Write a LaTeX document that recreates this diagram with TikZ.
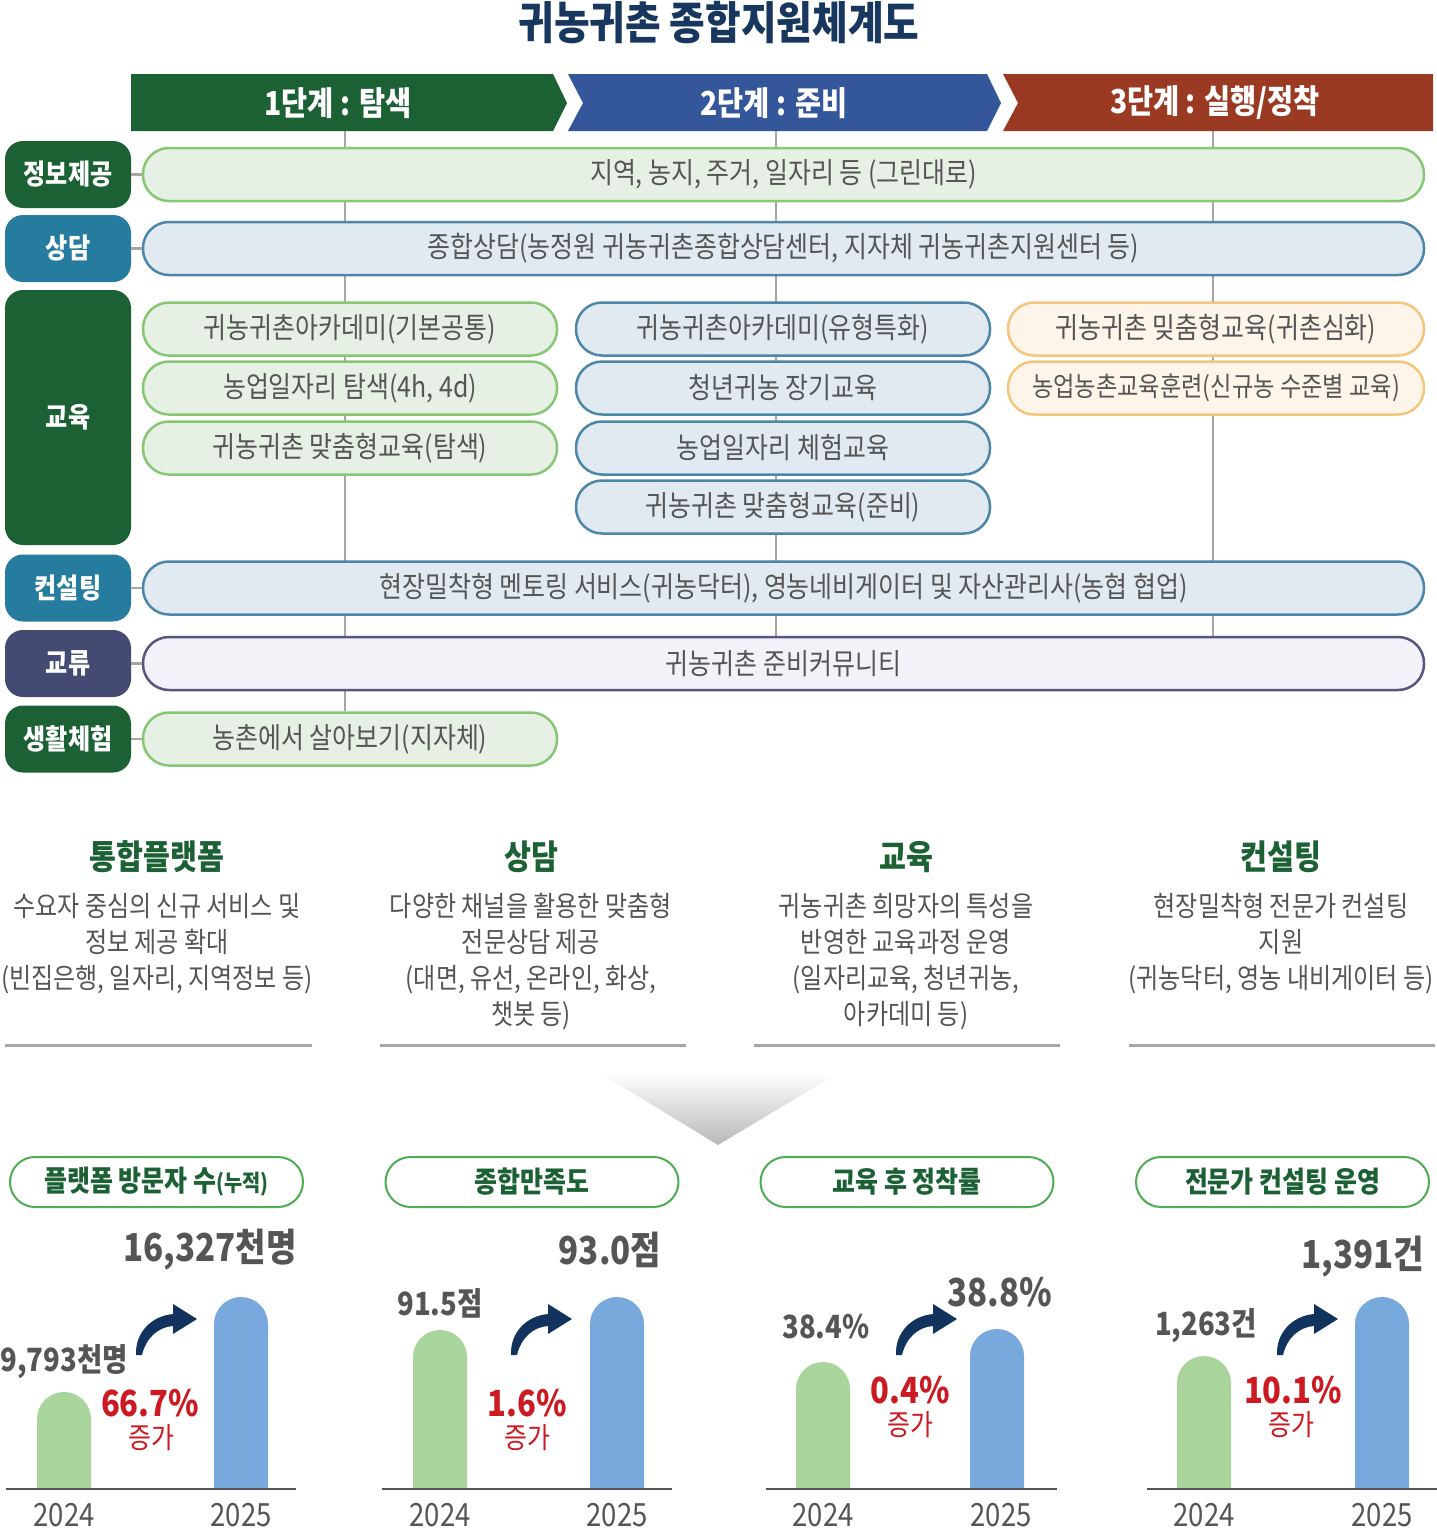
\documentclass[tikz,border=0pt]{standalone}
\usepackage{fontspec}
\setmainfont{Noto Sans CJK KR}[FakeStretch=0.86]
\usetikzlibrary{backgrounds}

\definecolor{titlenavy}{HTML}{17375E}
\definecolor{deepgreen}{HTML}{1B6133}
\definecolor{seablue}{HTML}{257C9E}
\definecolor{slatenavy}{HTML}{454A72}
\definecolor{stageblue}{HTML}{34579B}
\definecolor{stagered}{HTML}{9B3A23}
\definecolor{leafline}{HTML}{86C774}
\definecolor{leaffill}{HTML}{E6F0E4}
\definecolor{skyline}{HTML}{4C87A9}
\definecolor{skyfill}{HTML}{E1E9F1}
\definecolor{sandline}{HTML}{F4C57C}
\definecolor{sandfill}{HTML}{FDF4EA}
\definecolor{lilacline}{HTML}{55577F}
\definecolor{lilacfill}{HTML}{F3F2F8}
\definecolor{inkgray}{HTML}{555555}
\definecolor{wiregray}{HTML}{A6A6A6}
\definecolor{pillgreen}{HTML}{4CAD52}
\definecolor{bargreen}{HTML}{A9D49B}
\definecolor{barblue}{HTML}{77A9DC}
\definecolor{upred}{HTML}{CC1A22}
\definecolor{arrownavy}{HTML}{12335E}

\tikzset{
	catbox/.style={rectangle, rounded corners=18pt, minimum width=126pt, minimum height=67pt, inner sep=0pt, text=white, font=\fontsize{28}{28}\selectfont\bfseries},
	rowbox/.style={rectangle, rounded corners=26pt, minimum height=53pt, line width=2.5pt, inner sep=0pt, text=inkgray, font=\fontsize{29}{29}\selectfont},
	leafbox/.style={rowbox, draw=leafline, fill=leaffill},
	skybox/.style={rowbox, draw=skyline, fill=skyfill},
	sandbox/.style={rowbox, draw=sandline, fill=sandfill},
	lilacbox/.style={rowbox, draw=lilacline, fill=lilacfill},
	stagetext/.style={text=white, font=\fontsize{33}{33}\selectfont\bfseries},
	wire/.style={draw=wiregray, line width=2.5pt},
	headtext/.style={text=deepgreen, font=\fontsize{34}{34}\selectfont\bfseries},
	desctext/.style={align=center, inner sep=0pt, text=inkgray, font=\fontsize{28}{36}\selectfont},
	sepline/.style={draw=wiregray, line width=3pt},
	pillbox/.style={rectangle, rounded corners=25pt, minimum width=293pt, minimum height=50pt, draw=pillgreen, line width=2pt, fill=white, text=deepgreen, font=\fontsize{29}{29}\selectfont\bfseries},
	bigvalue/.style={text=inkgray, font=\fontsize{38.5}{38.5}\selectfont\bfseries},
	smallvalue/.style={text=inkgray, font=\fontsize{32}{32}\selectfont\bfseries},
	risetext/.style={text=upred, font=\fontsize{36}{36}\selectfont\bfseries},
	riseword/.style={text=upred, font=\fontsize{29}{29}\selectfont},
	yeartext/.style={text=inkgray, font=\fontsize{32}{32}\selectfont},
	axisline/.style={draw=inkgray, line width=2pt},
	growarrow/.pic={\fill[arrownavy] (-3,0) .. controls (-4,-22) and (12,-39) .. (34,-41) -- (34,-51) -- (58,-36) -- (34,-21) -- (34,-29) .. controls (19,-28) and (7,-17) .. (3,0) -- cycle;}
}

\begin{document}
\begin{tikzpicture}[x=1pt, y=-1pt]
	\useasboundingbox (0,0) rectangle (1437,1529);
	% Title and stages:
	\node[text=titlenavy, font=\fontsize{45}{45}\selectfont\bfseries] (title) at (719,23) {귀농귀촌 종합지원체계도};
	\fill[deepgreen] (131,74) -- (553,74) -- (567,103) -- (553,131) -- (131,131) -- cycle;
	\fill[stageblue] (568,74) -- (987,74) -- (1001,103) -- (987,131) -- (568,131) -- (583,103) -- cycle;
	\fill[stagered] (1003,74) -- (1433,74) -- (1433,131) -- (1003,131) -- (1018,103) -- cycle;
	\node[stagetext] (stage1) at (338,103) {1단계 : 탐색};
	\node[stagetext] (stage2) at (774,103) {2단계 : 준비};
	\node[stagetext] (stage3) at (1215,103) {3단계 : 실행/정착};
	\coordinate (foot1) at (345,131);
	\coordinate (foot2) at (776,131);
	\coordinate (foot3) at (1213,131);

	% Categories:
	\node[catbox, fill=deepgreen] (infocat) at (68,174.5) {정보제공};
	\node[catbox, fill=seablue] (counselcat) at (68,248.5) {상담};
	\node[catbox, fill=deepgreen, minimum height=255pt] (educat) at (68,417.5) {교육};
	\node[catbox, fill=seablue] (consultcat) at (68,588) {컨설팅};
	\node[catbox, fill=slatenavy] (swapcat) at (68,663.5) {교류};
	\node[catbox, fill=deepgreen] (lifecat) at (68,739) {생활체험};

	% Programmes:
	\node[leafbox, minimum width=1281pt] (infobar) at (783.5,174.5) {지역, 농지, 주거, 일자리 등 (그린대로)};
	\node[skybox, minimum width=1281pt] (counselbar) at (783.5,248.5) {종합상담(농정원 귀농귀촌종합상담센터, 지자체 귀농귀촌지원센터 등)};
	\node[leafbox, minimum width=414pt] (eduA1) at (350,329) {귀농귀촌아카데미(기본공통)};
	\node[leafbox, minimum width=414pt] (eduA2) at (350,388) {농업일자리 탐색(4h, 4d)};
	\node[leafbox, minimum width=414pt] (eduA3) at (350,448) {귀농귀촌 맞춤형교육(탐색)};
	\node[skybox, minimum width=414pt] (eduB1) at (783,329) {귀농귀촌아카데미(유형특화)};
	\node[skybox, minimum width=414pt] (eduB2) at (783,388) {청년귀농 장기교육};
	\node[skybox, minimum width=414pt] (eduB3) at (783,448) {농업일자리 체험교육};
	\node[skybox, minimum width=414pt] (eduB4) at (783,507) {귀농귀촌 맞춤형교육(준비)};
	\node[sandbox, minimum width=416pt] (eduC1) at (1216,329) {귀농귀촌 밎춤형교육(귀촌심화)};
	\node[sandbox, minimum width=416pt, font=\fontsize{27}{27}\selectfont] (eduC2) at (1216,388) {농업농촌교육훈련(신규농 수준별 교육)};
	\node[skybox, minimum width=1281pt] (consultbar) at (783.5,588) {현장밀착형 멘토링 서비스(귀농닥터), 영농네비게이터 및 자산관리사(농협 협업)};
	\node[lilacbox, minimum width=1281pt] (swapbar) at (783.5,663.5) {귀농귀촌 준비커뮤니티};
	\node[leafbox, minimum width=414pt] (lifebar) at (350,739) {농촌에서 살아보기(지자체)};

	% Wires:
	\draw[wire] (infocat.east) -- (infobar.west);
	\draw[wire] (counselcat.east) -- (counselbar.west);
	\draw[wire] (consultcat.east) -- (consultbar.west);
	\draw[wire] (swapcat.east) -- (swapbar.west);
	\draw[wire] (lifecat.east) -- (lifebar.west);
	\begin{scope}[on background layer]
		\fill[white] (0,0) rectangle (1437,1529);
		\draw[wire] (foot1) -- (foot1 |- lifebar.north);
		\draw[wire] (foot2) -- (foot2 |- swapbar.north);
		\draw[wire] (foot3) -- (foot3 |- swapbar.north);
	\end{scope}

	% Key areas:
	\node[headtext] (headplat) at (157,857) {통합플랫폼};
	\node[desctext] (descplat) at (157,944) {수요자 중심의 신규 서비스 및\\정보 제공 확대\\(빈집은행, 일자리, 지역정보 등)};
	\node[headtext] (headtalk) at (531,857) {상담};
	\node[desctext] (desctalk) at (531,962) {다양한 채널을 활용한 맞춤형\\전문상담 제공\\(대면, 유선, 온라인, 화상,\\챗봇 등)};
	\node[headtext] (headlearn) at (906,857) {교육};
	\node[desctext] (desclearn) at (906,962) {귀농귀촌 희망자의 특성을\\반영한 교육과정 운영\\(일자리교육, 청년귀농,\\아카데미 등)};
	\node[headtext] (headadvice) at (1281,857) {컨설팅};
	\node[desctext] (descadvice) at (1281,944) {현장밀착형 전문가 컨설팅\\지원\\(귀농닥터, 영농 내비게이터 등)};
	\draw[sepline] (5,1045) -- (312,1045);
	\draw[sepline] (380,1045) -- (686,1045);
	\draw[sepline] (754,1045) -- (1060,1045);
	\draw[sepline] (1129,1045) -- (1435,1045);
	\shade[top color=white, bottom color=black!28] (600,1073) -- (838,1073) -- (718,1145) -- cycle;

	% Results:
	\node[pillbox] (pillvisit) at (156.5,1182) {플랫폼 방문자 수{\fontsize{23}{23}\selectfont(누적)}};
	\node[pillbox] (pillsatis) at (532,1182) {종합만족도};
	\node[pillbox] (pillsettle) at (907,1182) {교육 후 정착률};
	\node[pillbox] (pillexpert) at (1282.5,1182) {전문가 컨설팅 운영};
	\foreach \xl/\top/\clr in {37/1392/bargreen, 214/1297/barblue, 413/1330/bargreen, 590/1297/barblue, 796/1362/bargreen, 970/1329/barblue, 1177/1356/bargreen, 1355/1297/barblue}
		\fill[\clr] (\xl,1489) -- (\xl,\top+27) arc[start angle=180, end angle=360, radius=27] -- (\xl+54,1489) -- cycle;
	\draw[axisline] (6,1489) -- (296,1489);
	\draw[axisline] (382,1489) -- (672,1489);
	\draw[axisline] (766,1489) -- (1057,1489);
	\draw[axisline] (1147,1489) -- (1437,1489);
	\node[yeartext] (yearA1) at (64,1515) {2024};
	\node[yeartext] (yearA2) at (241,1515) {2025};
	\node[yeartext] (yearB1) at (440,1515) {2024};
	\node[yeartext] (yearB2) at (617,1515) {2025};
	\node[yeartext] (yearC1) at (823,1515) {2024};
	\node[yeartext] (yearC2) at (1001,1515) {2025};
	\node[yeartext] (yearD1) at (1204,1515) {2024};
	\node[yeartext] (yearD2) at (1382,1515) {2025};
	\node[smallvalue] (valA1) at (64,1362) {9,793천명};
	\node[bigvalue] (valA2) at (210,1250) {16,327천명};
	\node[smallvalue] (valB1) at (440,1303) {91.5점};
	\node[bigvalue] (valB2) at (610,1250) {93.0점};
	\node[smallvalue] (valC1) at (826,1327) {38.4\%};
	\node[bigvalue] (valC2) at (1000,1292) {38.8\%};
	\node[smallvalue] (valD1) at (1206,1326) {1,263건};
	\node[bigvalue] (valD2) at (1363,1257) {1,391건};
	\node[risetext] (riseA) at (150,1403) {66.7\%};
	\node[riseword] (wordA) at (151,1438) {증가};
	\node[risetext] (riseB) at (527,1403) {1.6\%};
	\node[riseword] (wordB) at (527,1438) {증가};
	\node[risetext] (riseC) at (910,1390) {0.4\%};
	\node[riseword] (wordC) at (910,1425) {증가};
	\node[risetext] (riseD) at (1293,1390) {10.1\%};
	\node[riseword] (wordD) at (1291,1425) {증가};
	\pic at (139,1355) {growarrow};
	\pic at (514,1355) {growarrow};
	\pic at (899,1355) {growarrow};
	\pic at (1280,1355) {growarrow};
\end{tikzpicture}
\end{document}
